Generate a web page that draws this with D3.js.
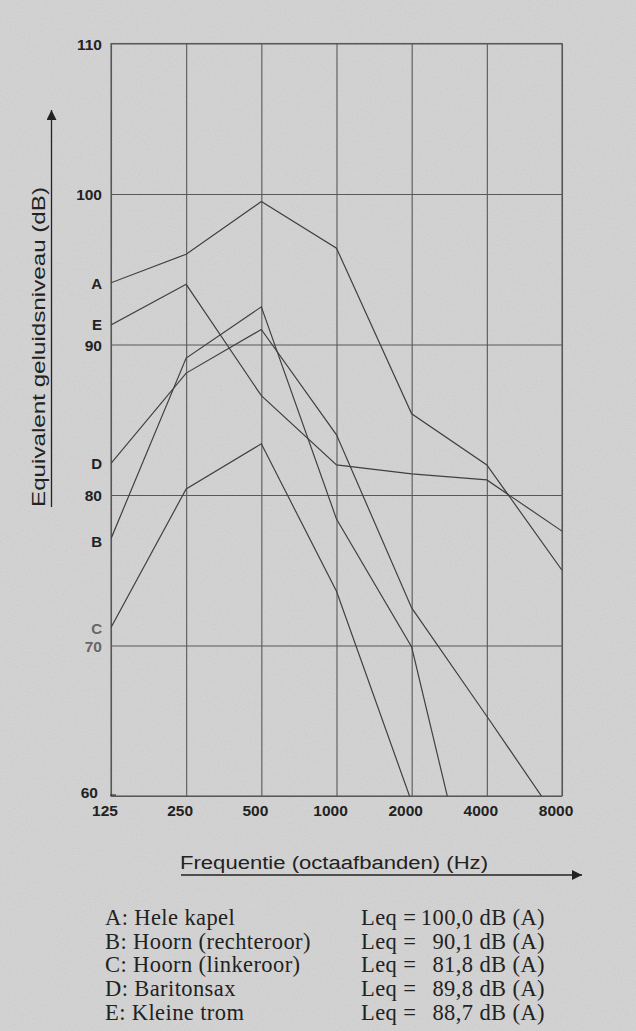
<!DOCTYPE html>
<html>
<head>
<meta charset="utf-8">
<script src="https://cdn.jsdelivr.net/npm/d3@7"></script>
<style>
  html, body { margin: 0; padding: 0; background: #d2d2d2; }
  svg { display: block; }
  .tick text { font-family: "Liberation Sans", Arial, sans-serif; font-weight: bold; font-size: 15.5px; fill: #222; }
  .grid line, .grid path { stroke: #585858; stroke-width: 1.1; }
  .legend text { font-family: "Liberation Serif", "Times New Roman", serif; font-size: 22.5px; letter-spacing: 0.4px; fill: #222; }
</style>
</head>
<body>
<div id="chart"></div>
<script>
// Frequencies (octave bands) on the x axis
const frequencies = [125, 250, 500, 1000, 2000, 4000, 8000];
const freqLabels = ["125", "250", "500", "1000", "2000", "4000", "8000"];
const dbTicks = [60, 70, 80, 90, 100, 110];

// Levels in dB per band (null = not drawn)
const seriesA = [94.1, 96.0, 99.5, 96.4, 85.4, 82.0, 75.0];
const seriesB = [77.1, 89.1, 92.5, 78.4, 69.9, 49.0, null];
const seriesC = [71.2, 80.4, 83.4, 73.6, 59.6, null, null];
const seriesD = [82.1, 88.1, 91.0, 84.0, 72.5, 65.3, 58.0];
const seriesE = [91.3, 94.0, 86.6, 82.0, 81.4, 81.0, 77.6];

const seriesKeys = ["A", "B", "C", "D", "E"];
const seriesValues = [seriesA, seriesB, seriesC, seriesD, seriesE];

// Legend rows
const legendNames = ["A: Hele kapel", "B: Hoorn (rechteroor)", "C: Hoorn (linkeroor)", "D: Baritonsax", "E: Kleine trom"];
const legendLeq = ["100,0 dB (A)", "90,1 dB (A)", "81,8 dB (A)", "89,8 dB (A)", "88,7 dB (A)"];

const W = 636, H = 1031;
const margin = { top: 43.5, right: 74, bottom: 235, left: 111 };
const innerW = W - margin.left - margin.right,
  innerH = H - margin.top - margin.bottom;

const svg = d3.select("#chart").append("svg")
  .attr("width", W)
  .attr("height", H);

// Paper-like grey background with a bit of grain
const defs = svg.append("defs");
const noise = defs.append("filter").attr("id", "grain");
noise.append("feTurbulence").attr("type", "fractalNoise").attr("baseFrequency", 0.85).attr("numOctaves", 2).attr("seed", 4);
noise.append("feColorMatrix").attr("type", "saturate").attr("values", 0);
svg.append("rect").attr("width", W).attr("height", H).attr("fill", "#d3d3d3");
svg.append("rect").attr("width", W).attr("height", H).attr("filter", "url(#grain)").attr("opacity", 0.18);

defs.append("clipPath").attr("id", "plotclip")
  .append("rect").attr("width", innerW).attr("height", innerH);

defs.append("marker").attr("id", "arrow")
  .attr("viewBox", "0 0 10 10").attr("refX", 10).attr("refY", 5)
  .attr("markerWidth", 15).attr("markerHeight", 10).attr("markerUnits", "userSpaceOnUse")
  .attr("orient", "auto")
  .append("path").attr("d", "M0,0 L10,5 L0,10 Z").attr("fill", "#222");

const g = svg.append("g").attr("transform", "translate(" + margin.left + "," + margin.top + ")");

const x = d3.scaleLog().base(2).domain([125, 8000]).range([0, innerW]);
const y = d3.scaleLinear().domain([60, 110]).range([innerH, 0]);

// Horizontal grid + y tick labels
const yAxis = g.append("g").attr("class", "grid")
  .call(d3.axisLeft(y).tickValues(dbTicks).tickFormat(d3.format("d")).tickSize(-innerW).tickPadding(9));
yAxis.select(".domain").remove();
yAxis.selectAll(".tick text").attr("dy", "0.36em");
yAxis.selectAll(".tick").filter(d => d === 70).select("text").style("fill", "#666");
yAxis.selectAll(".tick").filter(d => d === 60).select("text").attr("dy", "0.1em").attr("x", -13);

// Vertical grid + x tick labels
const xAxis = g.append("g").attr("class", "grid")
  .attr("transform", "translate(0," + innerH + ")")
  .call(d3.axisBottom(x).tickValues(frequencies).tickFormat((d, i) => freqLabels[i]).tickSize(-innerH).tickPadding(6));
xAxis.select(".domain").remove();
xAxis.selectAll(".tick text").attr("dx", -6.5).attr("dy", "0.9em");

// Frame
g.append("rect").attr("width", innerW).attr("height", innerH)
  .attr("fill", "none").attr("stroke", "#585858").attr("stroke-width", 1.1);

// small dash next to 60
g.append("line").attr("x1", -1).attr("x2", 5).attr("y1", y(60) - 1).attr("y2", y(60) - 1)
  .attr("stroke", "#333").attr("stroke-width", 1.2);

// Data lines
const line = d3.line()
  .defined(d => d.v !== null)
  .x(d => x(d.f))
  .y(d => y(d.v));

const plot = g.append("g").attr("clip-path", "url(#plotclip)");
seriesValues.forEach((vals, i) => {
  plot.append("path")
    .datum(frequencies.map((f, j) => ({ f: f, v: vals[j] })))
    .attr("fill", "none")
    .attr("stroke", "#404040")
    .attr("stroke-width", 1.2)
    .attr("d", line);
});

// Series letters on the left
const labelShift = { A: 1, B: 3, C: 1, D: 0, E: 0 };
g.selectAll(".serieslabel")
  .data(seriesKeys)
  .enter().append("text")
  .attr("class", "serieslabel")
  .attr("x", -9)
  .attr("y", (d, i) => y(seriesValues[i][0]) + labelShift[d])
  .attr("dy", "0.36em")
  .attr("text-anchor", "end")
  .style("font-family", "'Liberation Sans', Arial, sans-serif")
  .style("font-weight", "bold")
  .style("font-size", "15px")
  .style("fill", d => d === "C" ? "#666" : "#222")
  .text(d => d);

// Y axis title with upward arrow
svg.append("line").attr("x1", 51.5).attr("x2", 51.5).attr("y1", 507).attr("y2", 110)
  .attr("stroke", "#222").attr("stroke-width", 1.3).attr("marker-end", "url(#arrow)");
svg.append("text")
  .attr("transform", "translate(45,347) rotate(-90)")
  .attr("text-anchor", "middle")
  .attr("textLength", 320).attr("lengthAdjust", "spacingAndGlyphs")
  .style("font-family", "'Liberation Sans', Arial, sans-serif")
  .style("font-size", "18px")
  .style("fill", "#222")
  .text("Equivalent geluidsniveau (dB)");

// X axis title with arrow to the right
svg.append("line").attr("x1", 181).attr("x2", 582).attr("y1", 875).attr("y2", 875)
  .attr("stroke", "#222").attr("stroke-width", 1.3).attr("marker-end", "url(#arrow)");
svg.append("text")
  .attr("x", 180).attr("y", 869)
  .attr("textLength", 308).attr("lengthAdjust", "spacingAndGlyphs")
  .style("font-family", "'Liberation Sans', Arial, sans-serif")
  .style("font-size", "18px")
  .style("fill", "#222")
  .text("Frequentie (octaafbanden) (Hz)");

// Legend
const legend = svg.append("g").attr("class", "legend");
const rowY = [925, 948.5, 972, 996, 1020];
legendNames.forEach((name, i) => {
  legend.append("text").attr("x", 105).attr("y", rowY[i]).text(name);
  legend.append("text").attr("x", 361).attr("y", rowY[i]).text("Leq =");
  legend.append("text").attr("x", 545).attr("y", rowY[i]).attr("text-anchor", "end").text(legendLeq[i]);
});
</script>
</body>
</html>
